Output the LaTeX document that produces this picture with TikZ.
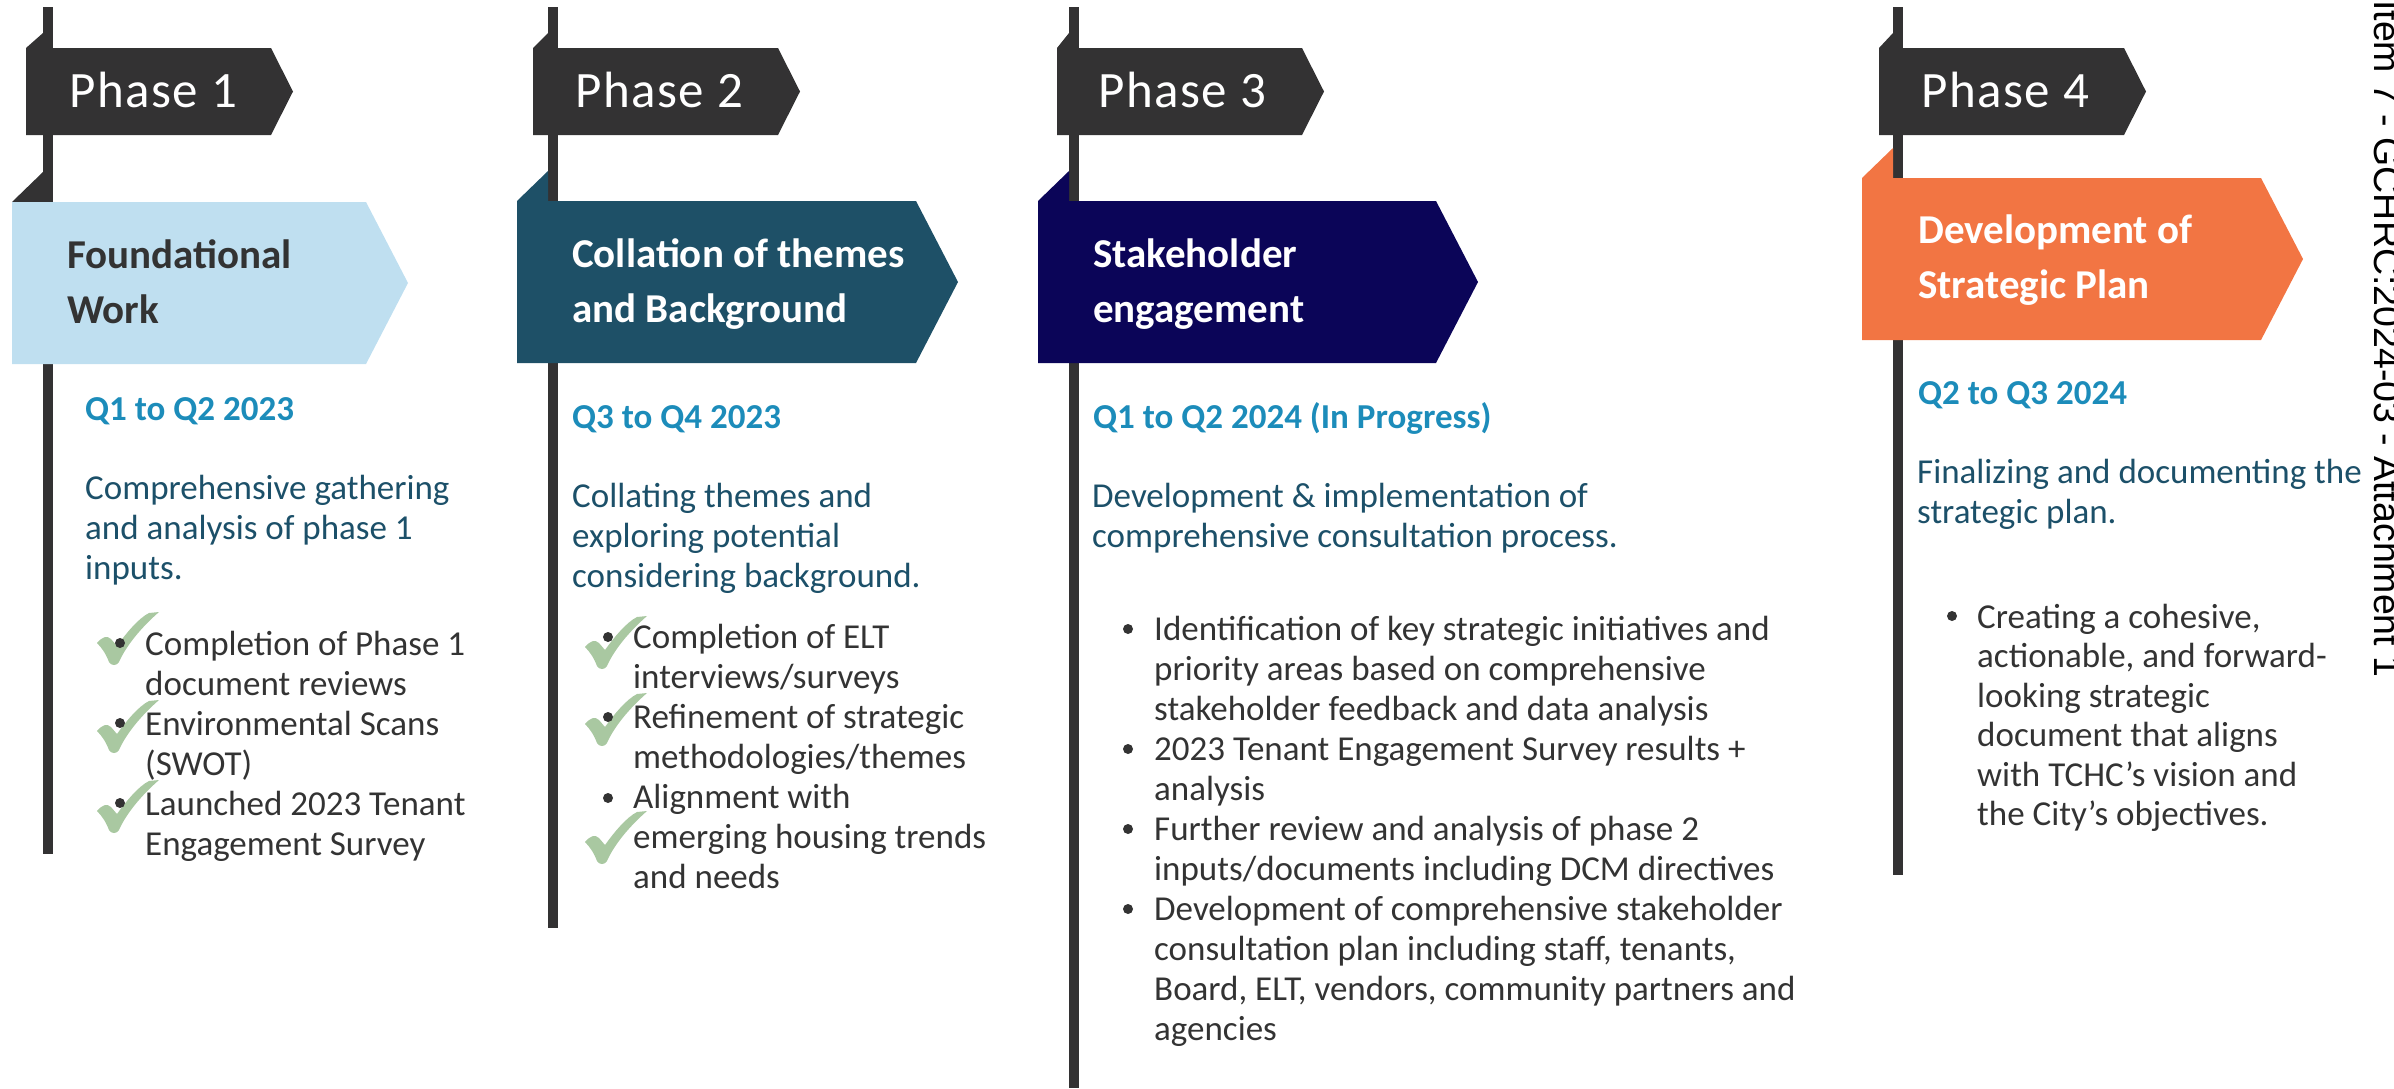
\documentclass[tikz,border=0pt]{standalone}
\usepackage{fontspec}
\setmainfont{Carlito}
\newfontfamily\sidefam{Liberation Sans}
\newfontfamily\phasefam[LetterSpace=3]{Carlito}
\definecolor{poleC}{HTML}{333233}
\definecolor{tagC}{HTML}{333233}
\definecolor{boxA}{HTML}{BFDFF0}
\definecolor{boxB}{HTML}{1E5067}
\definecolor{boxC}{HTML}{0B0558}
\definecolor{boxD}{HTML}{F27543}
\definecolor{qC}{HTML}{1C8CBA}
\definecolor{descC}{HTML}{1C5069}
\definecolor{itemC}{HTML}{333333}
\definecolor{chkC}{HTML}{A9C8A1}
\newcommand{\ml}[1]{\begin{tabular}[t]{@{}l@{}}#1\end{tabular}}
\newcommand{\bodyfont}{\fontsize{35}{40}\selectfont}
\newcommand{\titlefont}{\fontsize{41}{55}\selectfont\bfseries}
\newcommand{\qfont}{\fontsize{35}{40}\selectfont\bfseries}
\newcommand{\phasefont}{\phasefam\fontsize{51}{60}\selectfont}
% #1 left edge, #2 pole left edge
\newcommand{\phasetag}[2]{%
  \fill[tagC] (#1,48) -- (#2,33) -- (#2,48) -- cycle;
  \fill[tagC] (#1,48) -- ({#1+245},48) -- ({#1+267},91.5) -- ({#1+245},135) -- (#1,135) -- cycle;}
% #1 left, #2 pole left, #3 top, #4 width, #5 fill, #6 fold colour
\newcommand{\phasebox}[6]{%
  \fill[#6] (#1,#3) -- (#2,{#3-30}) -- (#2,#3) -- cycle;
  \fill[#5] (#1,#3) -- ({#1+#4},#3) -- ({#1+#4+42},{#3+81}) -- ({#1+#4},{#3+162}) -- (#1,{#3+162}) -- cycle;}
\tikzset{
  tagtxt/.style={anchor=base west, inner sep=0pt, text=white, font=\phasefont},
  titletxt/.style={anchor=base west, inner sep=0pt, font=\titlefont},
  qtxt/.style={anchor=base west, inner sep=0pt, text=qC, font=\qfont},
  desctxt/.style={anchor=base west, inner sep=0pt, text=descC, font=\bodyfont},
  itemtxt/.style={anchor=base west, inner sep=0pt, text=itemC, font=\bodyfont},
  bdot/.style={circle, fill=itemC, draw=none, inner sep=0pt, minimum size=10pt},
  chk/.pic={\fill[chkC] (0,31) .. controls (5,25) and (10,23) .. (14,27) -- (20,34)
      .. controls (30,20) and (42,6) .. (52,1) -- (62,0)
      .. controls (46,14) and (30,32) .. (22,50) .. controls (20,54) and (14,54) .. (12,50)
      .. controls (9,42) and (5,36) .. cycle;}
}
\begin{document}
\begin{tikzpicture}[x=1pt,y=-1pt]
\useasboundingbox (0,0) rectangle (2394,1088);
% poles
\fill[poleC] (43,7) rectangle (53,854);
\fill[poleC] (548,7) rectangle (558,928);
\fill[poleC] (1069,7) rectangle (1079,1088);
\fill[poleC] (1893,7) rectangle (1903,875);
% phase tags
\phasetag{26}{43}
\phasetag{533}{548}
\phasetag{1057}{1069}
\phasetag{1879}{1893}
% coloured boxes
\phasebox{12}{43}{202}{354}{boxA}{poleC}
\phasebox{517}{548}{201}{399}{boxB}{boxB}
\phasebox{1038}{1069}{201}{398}{boxC}{boxC}
\phasebox{1862}{1893}{178}{399}{boxD}{boxD}
% tag labels
\node[tagtxt] (p1) at (69,107) {Phase 1};
\node[tagtxt] (p2) at (575,107) {Phase 2};
\node[tagtxt] (p3) at (1098,107) {Phase 3};
\node[tagtxt] (p4) at (1921,107) {Phase 4};
% titles
\node[titletxt, text=itemC] (t1) at (67,268) {\ml{Foundational\\Work}};
\node[titletxt, text=white] (t2) at (572,267) {\ml{Collation of themes\\and Background}};
\node[titletxt, text=white] (t3) at (1093,267) {\ml{Stakeholder\\engagement}};
\node[titletxt, text=white] (t4) at (1918,243) {\ml{Development of\\Strategic Plan}};
% quarters
\node[qtxt] (q1) at (85,420) {Q1 to Q2 2023};
\node[qtxt] (q2) at (572,428) {Q3 to Q4 2023};
\node[qtxt] (q3) at (1093,428) {Q1 to Q2 2024 (In Progress)};
\node[qtxt] (q4) at (1918,404) {Q2 to Q3 2024};
% descriptions
\node[desctxt] (d1) at (85,499) {\ml{Comprehensive gathering\\and analysis of phase 1\\inputs.}};
\node[desctxt] (d2) at (572,507) {\ml{Collating themes and\\exploring potential\\considering background.}};
\node[desctxt] (d3) at (1092,507) {\ml{Development \& implementation of\\comprehensive consultation process.}};
\node[desctxt] (d4) at (1917,483) {\ml{Finalizing and documenting the\\strategic plan.}};
% phase 1 items
\pic at (97,612) {chk};
\pic at (97,700) {chk};
\pic at (97,780) {chk};
\node[bdot] (b11) at (120,643) {};
\node[bdot] (b12) at (120,723) {};
\node[bdot] (b13) at (120,803) {};
\node[itemtxt] (i11) at (145,655) {\ml{Completion of Phase 1\\document reviews}};
\node[itemtxt] (i12) at (145,735) {\ml{Environmental Scans\\(SWOT)}};
\node[itemtxt] (i13) at (145,815) {\ml{Launched 2023 Tenant\\Engagement Survey}};
% phase 2 items
\pic at (585,616) {chk};
\pic at (585,693) {chk};
\pic at (585,811) {chk};
\node[bdot] (b21) at (608,637) {};
\node[bdot] (b22) at (608,717) {};
\node[bdot] (b23) at (608,798) {};
\node[itemtxt] (i21) at (633,648) {\ml{Completion of ELT\\interviews/surveys}};
\node[itemtxt] (i22) at (633,728) {\ml{Refinement of strategic\\methodologies/themes}};
\node[itemtxt] (i23) at (633,808) {\ml{Alignment with\\emerging housing trends\\and needs}};
% phase 3 items
\node[bdot] (b31) at (1128,629) {};
\node[bdot] (b32) at (1128,749) {};
\node[bdot] (b33) at (1128,829) {};
\node[bdot] (b34) at (1128,909) {};
\node[itemtxt] (i31) at (1154,640) {\ml{Identification of key strategic initiatives and\\priority areas based on comprehensive\\stakeholder feedback and data analysis}};
\node[itemtxt] (i32) at (1154,760) {\ml{2023 Tenant Engagement Survey results +\\analysis}};
\node[itemtxt] (i33) at (1154,840) {\ml{Further review and analysis of phase 2\\inputs/documents including DCM directives}};
\node[itemtxt] (i34) at (1154,920) {\ml{Development of comprehensive stakeholder\\consultation plan including staff, tenants,\\Board, ELT, vendors, community partners and\\agencies}};
% phase 4 item
\node[bdot] (b41) at (1952,616) {};
\node[itemtxt, font=\fontsize{35}{39.5}\selectfont] (i41) at (1977,628) {\ml{Creating a cohesive,\\actionable, and forward-\\looking strategic\\document that aligns\\with TCHC’s vision and\\the City’s objectives.}};
% side label
\node[anchor=base west, inner sep=0pt, rotate=-90, font=\sidefam\fontsize{37.5}{45}\selectfont] (side) at (2374,0) {Item 7 - GCHRC:2024-03 - Attachment 1};
\end{tikzpicture}
\end{document}
